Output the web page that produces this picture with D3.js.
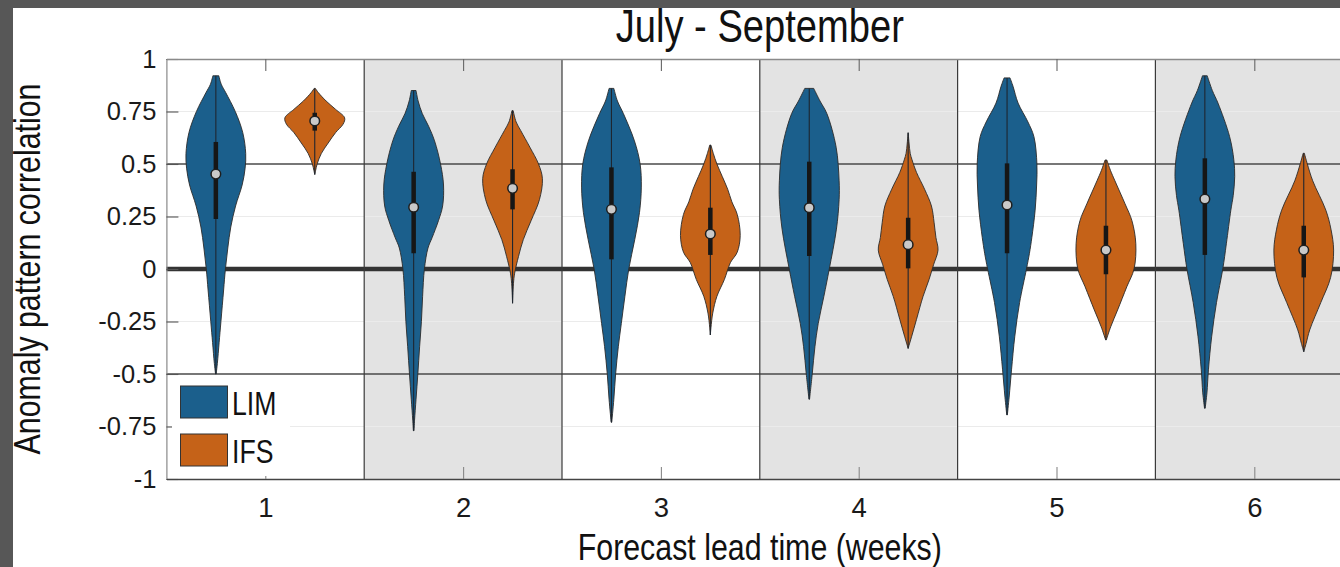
<!DOCTYPE html>
<html>
<head>
<meta charset="utf-8">
<script src="https://cdn.jsdelivr.net/npm/d3@7"></script>
<style>
  html, body { margin: 0; padding: 0; background: #575757; }
  svg { display: block; }
</style>
</head>
<body>
<svg id="chart" width="1340" height="567"></svg>
<script>
// ---- data -------------------------------------------------------------
const weeks = [1, 2, 3, 4, 5, 6];
const weekLabels = ["1", "2", "3", "4", "5", "6"];
const seriesNames = ["LIM", "IFS"];
const seriesColors = ["#1b5f8c", "#c56218"];

const yTicks = [-1, -0.75, -0.5, -0.25, 0, 0.25, 0.5, 0.75, 1];
const yTickLabels = ["-1", "-0.75", "-0.5", "-0.25", "0", "0.25", "0.5", "0.75", "1"];

// kernel density outlines: [correlation, relative half-width]
const limDensity = [
  [[0.92,0.1],[0.88,0.18],[0.84,0.33],[0.75,0.65],[0.65,0.9],[0.55,1.0],[0.48,0.98],[0.4,0.88],[0.3,0.66],[0.2,0.5],[0.1,0.4],[0,0.32],[-0.1,0.26],[-0.25,0.17],[-0.35,0.11],[-0.45,0.05],[-0.5,0.01]],
  [[0.85,0.08],[0.8,0.15],[0.74,0.29],[0.68,0.5],[0.61,0.7],[0.5,0.9],[0.4,1.0],[0.3,0.97],[0.23,0.83],[0.15,0.62],[0.1,0.48],[0,0.36],[-0.13,0.3],[-0.25,0.26],[-0.37,0.2],[-0.5,0.14],[-0.62,0.08],[-0.72,0.03],[-0.77,0.01]],
  [[0.86,0.08],[0.8,0.2],[0.74,0.4],[0.61,0.77],[0.5,0.96],[0.39,1.0],[0.27,0.94],[0.14,0.78],[0,0.58],[-0.13,0.45],[-0.26,0.33],[-0.37,0.23],[-0.5,0.14],[-0.62,0.08],[-0.73,0.01]],
  [[0.86,0.15],[0.8,0.36],[0.74,0.59],[0.58,0.9],[0.42,1.0],[0.33,1.0],[0.19,0.91],[0,0.67],[-0.13,0.49],[-0.26,0.3],[-0.37,0.19],[-0.5,0.1],[-0.62,0.01]],
  [[0.91,0.1],[0.87,0.2],[0.79,0.37],[0.7,0.7],[0.63,0.9],[0.5,1.0],[0.4,0.99],[0.28,0.94],[0.15,0.83],[0.075,0.75],[0,0.65],[-0.16,0.42],[-0.32,0.26],[-0.48,0.15],[-0.61,0.07],[-0.695,0.01]],
  [[0.92,0.08],[0.85,0.25],[0.79,0.44],[0.63,0.83],[0.52,0.97],[0.44,1.0],[0.35,0.95],[0.28,0.87],[0.12,0.72],[0,0.6],[-0.16,0.39],[-0.32,0.23],[-0.48,0.12],[-0.59,0.07],[-0.663,0.01]]
];
const ifsDensity = [
  [[0.86,0.02],[0.84,0.12],[0.8,0.38],[0.76,0.7],[0.72,1.0],[0.69,0.95],[0.65,0.7],[0.6,0.45],[0.55,0.22],[0.5,0.08],[0.47,0.03],[0.45,0.0]],
  [[0.754,0.02],[0.7,0.12],[0.66,0.27],[0.58,0.58],[0.5,0.87],[0.43,1.0],[0.33,0.9],[0.23,0.62],[0.14,0.36],[0.06,0.2],[-0.02,0.07],[-0.07,0.03],[-0.163,0.0]],
  [[0.59,0.02],[0.55,0.1],[0.5,0.22],[0.44,0.4],[0.38,0.58],[0.32,0.72],[0.26,0.9],[0.16,1.0],[0.08,0.9],[0.03,0.67],[-0.05,0.47],[-0.13,0.22],[-0.21,0.08],[-0.28,0.02],[-0.314,0.0]],
  [[0.649,0.0],[0.6,0.03],[0.55,0.07],[0.52,0.13],[0.46,0.28],[0.38,0.55],[0.3,0.78],[0.22,0.87],[0.15,0.93],[0.09,1.0],[0.02,0.85],[-0.05,0.7],[-0.13,0.5],[-0.24,0.28],[-0.32,0.12],[-0.378,0.0]],
  [[0.519,0.03],[0.47,0.15],[0.42,0.3],[0.31,0.64],[0.23,0.87],[0.12,1.0],[0,0.94],[-0.084,0.7],[-0.195,0.39],[-0.275,0.16],[-0.338,0.01]],
  [[0.551,0.02],[0.5,0.12],[0.42,0.3],[0.28,0.74],[0.19,0.91],[0.09,1.0],[-0.04,0.9],[-0.16,0.57],[-0.29,0.2],[-0.354,0.08],[-0.394,0.0]]
];

const limMedian = [0.452, 0.294, 0.284, 0.292, 0.305, 0.333];
const limQ1     = [0.238, 0.075, 0.046, 0.062, 0.075, 0.067];
const limQ3     = [0.605, 0.463, 0.484, 0.511, 0.503, 0.527];
const ifsMedian = [0.705, 0.384, 0.167, 0.116, 0.090, 0.090];
const ifsQ1     = [0.659, 0.284, 0.067, 0.003, -0.025, -0.040];
const ifsQ3     = [0.744, 0.475, 0.292, 0.244, 0.206, 0.206];

// ---- layout ------------------------------------------------------------
const W = 1340, H = 567;
const plot = { left: 166.4, right: 1353.2, top: 59, bottom: 479 };
const offset = 0.25;      // violin offset from the week centre
const halfWidth = 0.151;  // maximum violin half-width, in week units

const svg = d3.select("#chart");
const x = d3.scaleLinear().domain([0.5, 6.5]).range([plot.left, plot.right]);
const y = d3.scaleLinear().domain([-1, 1]).range([plot.bottom, plot.top]);

const FONT = "'Liberation Sans', Arial, Helvetica, sans-serif";
const NARROW = "'Liberation Sans Narrow', 'Arial Narrow', 'Liberation Sans', Arial, sans-serif";

// detect whether a condensed face is installed; otherwise squeeze glyphs
const probe = svg.append("text").attr("font-family", NARROW).attr("font-size", 40).text("Forecast lead");
const probe2 = svg.append("text").attr("font-family", FONT).attr("font-size", 40).text("Forecast lead");
const ratio = probe.node().getComputedTextLength() / probe2.node().getComputedTextLength();
probe.remove(); probe2.remove();
const squeeze = ratio > 0.9 ? 0.82 : 1;

function label(parent, txt, px, py, size, anchor, rotate) {
  const g = parent.append("g")
    .attr("transform", `translate(${px},${py})` + (rotate ? ` rotate(${rotate})` : "") + ` scale(${squeeze},1)`);
  g.append("text")
    .attr("font-family", NARROW)
    .attr("font-size", size)
    .attr("text-anchor", anchor)
    .attr("fill", "#111")
    .text(txt);
  return g;
}

// figure background
svg.append("rect").attr("x", 13).attr("y", 8).attr("width", W).attr("height", H).attr("fill", "#ffffff");

// alternating week bands
const g = svg.append("g");
g.append("rect").attr("x", plot.left).attr("y", plot.top)
  .attr("width", plot.right - plot.left).attr("height", plot.bottom - plot.top).attr("fill", "#ffffff");
g.selectAll("rect.band").data(weeks.filter((d, i) => i % 2 === 1)).join("rect")
  .attr("class", "band")
  .attr("x", d => x(d - 0.5)).attr("y", plot.top)
  .attr("width", d => x(d + 0.5) - x(d - 0.5)).attr("height", plot.bottom - plot.top)
  .attr("fill", "#e3e3e3");

// light grid at the quarter ticks
g.selectAll("line.grid").data(yTicks.filter(d => Math.abs(d) === 0.25 || Math.abs(d) === 0.75)).join("line")
  .attr("class", "grid")
  .attr("x1", plot.left).attr("x2", plot.right)
  .attr("y1", d => y(d)).attr("y2", d => y(d))
  .attr("stroke", "#ebebeb").attr("stroke-width", 1.2);

// reference lines at +-0.5 and 0
g.selectAll("line.ref").data([-0.5, 0.5]).join("line")
  .attr("class", "ref")
  .attr("x1", plot.left).attr("x2", plot.right)
  .attr("y1", d => y(d)).attr("y2", d => y(d))
  .attr("stroke", "#4a4a4a").attr("stroke-width", 1.4);
g.append("line")
  .attr("x1", plot.left).attr("x2", plot.right)
  .attr("y1", y(0)).attr("y2", y(0))
  .attr("stroke", "#333333").attr("stroke-width", 4.5);

// week separators
g.selectAll("line.sep").data(weeks.slice(0, -1)).join("line")
  .attr("class", "sep")
  .attr("x1", d => x(d + 0.5)).attr("x2", d => x(d + 0.5))
  .attr("y1", plot.top).attr("y2", plot.bottom)
  .attr("stroke", "#3a3a3a").attr("stroke-width", 1.2);

// ---- violins -----------------------------------------------------------
const groups = [
  { name: seriesNames[0], color: seriesColors[0], side: -1, dens: limDensity, med: limMedian, q1: limQ1, q3: limQ3 },
  { name: seriesNames[1], color: seriesColors[1], side: 1, dens: ifsDensity, med: ifsMedian, q1: ifsQ1, q3: ifsQ3 }
];

const vg = svg.append("g");
groups.forEach(s => {
  weeks.forEach((wk, i) => {
    const c = wk + s.side * offset;
    const area = d3.area()
      .y(d => y(d[0]))
      .x0(d => x(c - d[1] * halfWidth))
      .x1(d => x(c + d[1] * halfWidth))
      .curve(d3.curveCatmullRom.alpha(0.5));
    const pts = s.dens[i];
    vg.append("path")
      .attr("d", area(pts))
      .attr("fill", s.color)
      .attr("stroke", "#2b2b2b").attr("stroke-width", 0.9).attr("stroke-linejoin", "round");
    const ext = d3.extent(pts, d => d[0]);
    vg.append("line")
      .attr("x1", x(c)).attr("x2", x(c))
      .attr("y1", y(ext[0])).attr("y2", y(ext[1]))
      .attr("stroke", "#1e2630").attr("stroke-width", 1.1);
    vg.append("line")
      .attr("x1", x(c)).attr("x2", x(c))
      .attr("y1", y(s.q1[i])).attr("y2", y(s.q3[i]))
      .attr("stroke", "#161616").attr("stroke-width", 4.5);
    vg.append("circle")
      .attr("cx", x(c)).attr("cy", y(s.med[i])).attr("r", 4.8)
      .attr("fill", "#c9c9c9").attr("stroke", "#1e1e1e").attr("stroke-width", 1.5);
  });
});

// ---- axes ----------------------------------------------------------------
const axL = svg.append("g").attr("transform", `translate(${plot.left},0)`)
  .call(d3.axisLeft(y).tickValues(yTicks).tickFormat((d, i) => yTickLabels[i]).tickSize(-12).tickPadding(10));
axL.select(".domain").attr("stroke", "#8a8a8a").attr("stroke-width", 1.2);
axL.selectAll(".tick line").attr("stroke", "#555").attr("stroke-width", 1.1);
axL.selectAll(".tick text").attr("font-family", FONT).attr("font-size", 25.5).attr("fill", "#1a1a1a");

const axT = svg.append("g").attr("transform", `translate(0,${plot.top})`)
  .call(d3.axisTop(x).tickValues(weeks).tickFormat("").tickSize(-12).tickSizeOuter(0));
axT.select(".domain").attr("stroke", "#8a8a8a").attr("stroke-width", 1.4);
axT.selectAll(".tick line").attr("stroke", "#666").attr("stroke-width", 1.1);

const axB = svg.append("g").attr("transform", `translate(0,${plot.bottom})`)
  .call(d3.axisBottom(x).tickValues(weeks).tickFormat((d, i) => weekLabels[i]).tickSize(-12).tickSizeOuter(0).tickPadding(18));
axB.select(".domain").attr("stroke", "#444").attr("stroke-width", 1.6);
axB.selectAll(".tick line").attr("stroke", "#888").attr("stroke-width", 1.1);
axB.selectAll(".tick text").attr("font-family", FONT).attr("font-size", 27.5).attr("fill", "#1a1a1a");

// ---- legend --------------------------------------------------------------
const lg = svg.append("g");
lg.append("rect").attr("x", 172).attr("y", 377).attr("width", 118).attr("height", 99).attr("fill", "#ffffff");
groups.forEach((s, i) => {
  lg.append("rect")
    .attr("x", 180.5).attr("y", 386 + i * 48).attr("width", 47).attr("height", 32)
    .attr("fill", s.color).attr("stroke", "#333").attr("stroke-width", 1);
  label(lg, s.name, 232, 415 + i * 48, 32.5, "start");
});

// ---- titles --------------------------------------------------------------
label(svg, "July - September", (plot.left + plot.right) / 2, 42, 46.5, "middle");
label(svg, "Forecast lead time (weeks)", (plot.left + plot.right) / 2, 560, 37, "middle");
label(svg, "Anomaly pattern correlation", 40, (plot.top + plot.bottom) / 2, 37, "middle", -90);
</script>
</body>
</html>
